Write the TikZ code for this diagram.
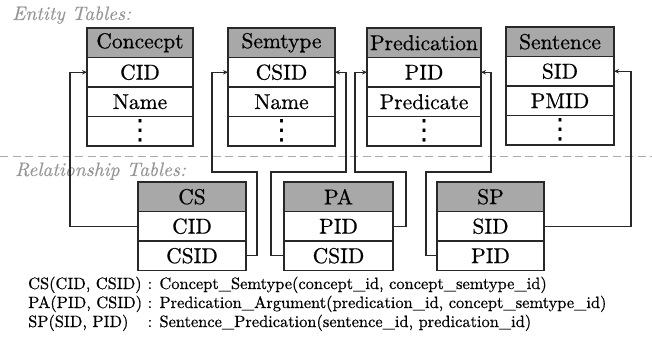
\documentclass[tikz,border=0pt]{standalone}
\usepackage{fontspec}
\setmainfont{lmroman10-regular.otf}[ItalicFont=lmroman10-italic.otf, UprightFeatures={FakeBold=0.6}, ItalicFeatures={FakeBold=0.3}]
\newfontfamily\dejavu{DejaVu Sans}
\usetikzlibrary{arrows.meta}
\newcommand\bigvdots{{\dejavu\fontsize{28}{28}\selectfont ⋮}}
\definecolor{hdr}{RGB}{168,168,168}
\definecolor{lbl}{RGB}{150,150,150}
\definecolor{brd}{RGB}{40,40,40}
\begin{document}
\begin{tikzpicture}[x=1pt,y=-1pt,
  cell/.style={draw=brd, line width=1.1pt, minimum height=29.5pt, inner sep=0pt, outer sep=0pt,
    font=\fontsize{21.5}{21.5}\selectfont},
  head/.style={cell, fill=hdr},
  grouplbl/.style={text=lbl, font=\fontsize{19.5}{19.5}\selectfont\itshape, anchor=base west, inner sep=0pt},
  note/.style={font=\fontsize{16.4}{17}\selectfont, anchor=base west, inner sep=0pt},
  conn/.style={line width=1.1pt, draw=brd, -{Stealth[length=5pt,width=4.5pt]}},
  plain/.style={line width=1.1pt, draw=brd}]
\useasboundingbox (0,0) rectangle (652,337);

% group labels
\node[grouplbl] (lent) at (12,20) {Entity Tables:};
\draw[lbl!80, line width=1pt, dash pattern=on 8pt off 4.5pt] (0,156) -- (652,156);
\node[grouplbl] (lrel) at (15,176) {Relationship Tables:};

% Concept
\node[head, minimum width=106pt, anchor=north west] (con0) at (87,28) {Concecpt};
\node[cell, minimum width=106pt, anchor=north] (con1) at (con0.south) {CID};
\node[cell, minimum width=106pt, anchor=north] (con2) at (con1.south) {Name};
\node[cell, minimum width=106pt, anchor=north] (con3) at (con2.south) {\bigvdots};

% Semtype
\node[head, minimum width=107pt, anchor=north west] (sem0) at (228,28) {Semtype};
\node[cell, minimum width=107pt, anchor=north] (sem1) at (sem0.south) {CSID};
\node[cell, minimum width=107pt, anchor=north] (sem2) at (sem1.south) {Name};
\node[cell, minimum width=107pt, anchor=north] (sem3) at (sem2.south) {\bigvdots};

% Predication
\node[head, minimum width=114pt, anchor=north west] (pre0) at (367,28) {Predication};
\node[cell, minimum width=114pt, anchor=north] (pre1) at (pre0.south) {PID};
\node[cell, minimum width=114pt, anchor=north] (pre2) at (pre1.south) {Predicate};
\node[cell, minimum width=114pt, anchor=north] (pre3) at (pre2.south) {\bigvdots};

% Sentence
\node[head, minimum width=108pt, anchor=north west] (sen0) at (506,27) {Sentence};
\node[cell, minimum width=108pt, anchor=north] (sen1) at (sen0.south) {SID};
\node[cell, minimum width=108pt, anchor=north] (sen2) at (sen1.south) {PMID};
\node[cell, minimum width=108pt, anchor=north] (sen3) at (sen2.south) {\bigvdots};

% CS
\node[head, minimum width=108pt, anchor=north west] (cs0) at (138,182) {CS};
\node[cell, minimum width=108pt, anchor=north] (cs1) at (cs0.south) {CID};
\node[cell, minimum width=108pt, anchor=north] (cs2) at (cs1.south) {CSID};

% PA
\node[head, minimum width=109pt, anchor=north west] (pa0) at (284,182) {PA};
\node[cell, minimum width=109pt, anchor=north] (pa1) at (pa0.south) {PID};
\node[cell, minimum width=109pt, anchor=north] (pa2) at (pa1.south) {CSID};

% SP
\node[head, minimum width=107pt, anchor=north west] (sp0) at (437,182) {SP};
\node[cell, minimum width=107pt, anchor=north] (sp1) at (sp0.south) {SID};
\node[cell, minimum width=107pt, anchor=north] (sp2) at (sp1.south) {PID};

% connectors
\draw[conn] (cs1.west) -- ++(-68,0) |- (con1.west);
\draw[conn] (cs2.east) -- ++(11,0) -- ++(0,-83.75) -- ++(-45,0) |- (sem1.west);
\draw[conn] (pa1.east) -- ++(13,0) -- ++(0,-54.25) -- ++(-51,0) |- (pre1.west);
\draw[conn] (pa2.west) -- ++(-13,0) -- ++(0,-83.75) -- ++(75,0) |- (sem1.east);
\draw[conn] (sp2.west) -- ++(-11,0) -- ++(0,-83.75) -- ++(65,0) |- (pre1.east);
\draw[conn] (sp1.east) -- ++(87,0) |- (sen1.east);

% notes
\node[note] (n1) at (28,289) {\makebox[114pt][l]{CS(CID, CSID)} : Concept\_Semtype(concept\_id, concept\_semtype\_id)};
\node[note] (n2) at (28,308) {\makebox[114pt][l]{PA(PID, CSID)} : Predication\_Argument(predication\_id, concept\_semtype\_id)};
\node[note] (n3) at (28,327) {\makebox[114pt][l]{SP(SID, PID)} : Sentence\_Predication(sentence\_id, predication\_id)};
\end{tikzpicture}
\end{document}
